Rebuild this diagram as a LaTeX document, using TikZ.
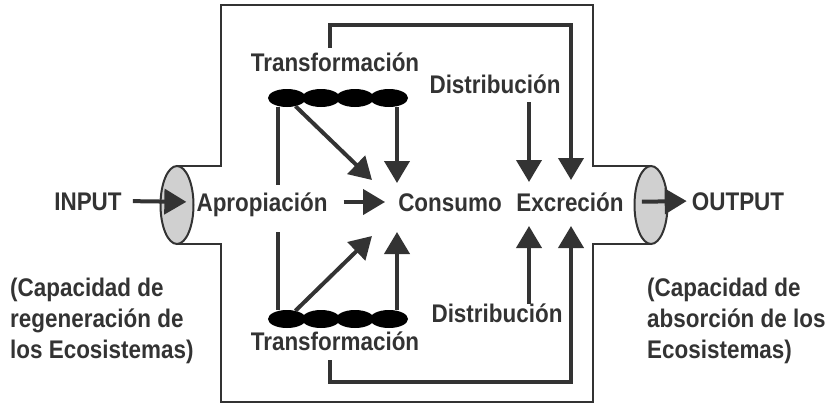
\documentclass[tikz,border=0pt]{standalone}
\usepackage{fontspec}
\setmainfont{Liberation Sans}[FakeStretch=0.88]
\usetikzlibrary{arrows.meta,shapes.geometric,positioning}
\definecolor{ink}{HTML}{333333}
\definecolor{pipegray}{HTML}{D0D0D0}
\tikzset{
	lbl/.style={inner sep=0pt,text height=18pt,text depth=0pt,text=ink,
		font=\fontsize{25.5}{31}\selectfont\bfseries},
	note/.style={inner sep=0pt,align=left,text=ink,
		font=\fontsize{25.5}{31}\selectfont\bfseries},
	blob/.style={ellipse,fill=black,minimum width=38pt,minimum height=18pt,inner sep=0pt},
	arr/.style={line width=4pt,draw=ink,-{Triangle[length=22pt,width=25pt]}},
	bar/.style={line width=4pt,draw=ink},
	wall/.style={line width=2.5pt,draw=ink},
}

\begin{document}
\begin{tikzpicture}[x=1pt,y=-1pt]
	\useasboundingbox (0,0) rectangle (830,404);
	% box and pipes
	\draw[wall] (177,166) -- (221,166) -- (221,5) -- (593,5) -- (593,166) -- (651,166);
	\draw[wall] (651,244) -- (593,244) -- (593,402) -- (221,402) -- (221,244) -- (177,244);
	\draw[line width=2pt,draw=ink,fill=pipegray] (177,205) ellipse [x radius=16.5,y radius=39];
	\draw[line width=2pt,draw=ink,fill=pipegray] (651,205) ellipse [x radius=16.5,y radius=39];

	\node[lbl,anchor=base] (input) at (88,210) {INPUT};
	\node[lbl,anchor=base] (aprop) at (262,211) {Apropiación};
	\node[lbl,anchor=base] (cons) at (450,211) {Consumo};
	\node[lbl,anchor=base] (excr) at (570,211) {Excreción};
	\node[lbl,anchor=base] (output) at (738,210) {OUTPUT};
	\node[lbl,anchor=base] (transA) at (335,72) {Transformación};
	\node[lbl,anchor=base] (transB) at (335,350) {Transformación};
	\node[lbl,anchor=base] (distA) at (495,93) {Distribución};
	\node[lbl,anchor=base] (distB) at (497,322) {Distribución};
	\node[note,anchor=base west] (regen) at (10,358) {(Capacidad de\\regeneración de\\los Ecosistemas)};
	\node[note,anchor=base west] (absor) at (647,358) {(Capacidad de\\absorción de los\\Ecosistemas)};

	\node[blob] (tA1) at (287,98) {};
	\node[blob] (tA2) at (321,98) {};
	\node[blob] (tA3) at (355,98) {};
	\node[blob] (tA4) at (389,98) {};
	\node[blob] (tB1) at (287,319) {};
	\node[blob] (tB2) at (321,319) {};
	\node[blob] (tB3) at (355,319) {};
	\node[blob] (tB4) at (389,319) {};

	% arrow ends
	\coordinate (c1) at (372,180);
	\coordinate (c2) at (397,183);
	\coordinate (c3) at (372,236);
	\coordinate (c4) at (397,232);
	\coordinate (e1) at (529,182);
	\coordinate (e2) at (571,180);
	\coordinate (e3) at (529,226);
	\coordinate (e4) at (571,226);
	\coordinate (a1) at (278,185);
	\coordinate (a2) at (278,232);
	\coordinate (topRun) at (0,25);
	\coordinate (botRun) at (0,382);

	\draw[arr,shorten <=11pt,shorten >=10pt] (input.east) -- (aprop.west);
	\draw[arr,shorten <=16pt,shorten >=13pt] (aprop.east) -- (cons.west);
	\draw[arr,shorten <=18pt,shorten >=5pt] (excr.east) -- (output.west);

	\draw[bar] (a1 |- tA1.south) -- (a1);
	\draw[arr] (tA1) -- (c1);
	\draw[arr] (c2 |- tA4.south) -- (c2);
	\draw[bar] (a2 |- tB1.north) -- (a2);
	\draw[arr] (tB1) -- (c3);
	\draw[arr] (c4 |- tB4.north) -- (c4);

	\draw[arr,shorten <=9pt] (e1 |- distA.south) -- (e1);
	\draw[arr] (e3 |- distB.north) -- (e3);
	\draw[arr] ([xshift=-5pt,yshift=6pt]transA.north) |- (e2 |- topRun) -- (e2);
	\draw[arr] ([xshift=-5pt,yshift=-10pt]transB.south) |- (e4 |- botRun) -- (e4);
\end{tikzpicture}
\end{document}
